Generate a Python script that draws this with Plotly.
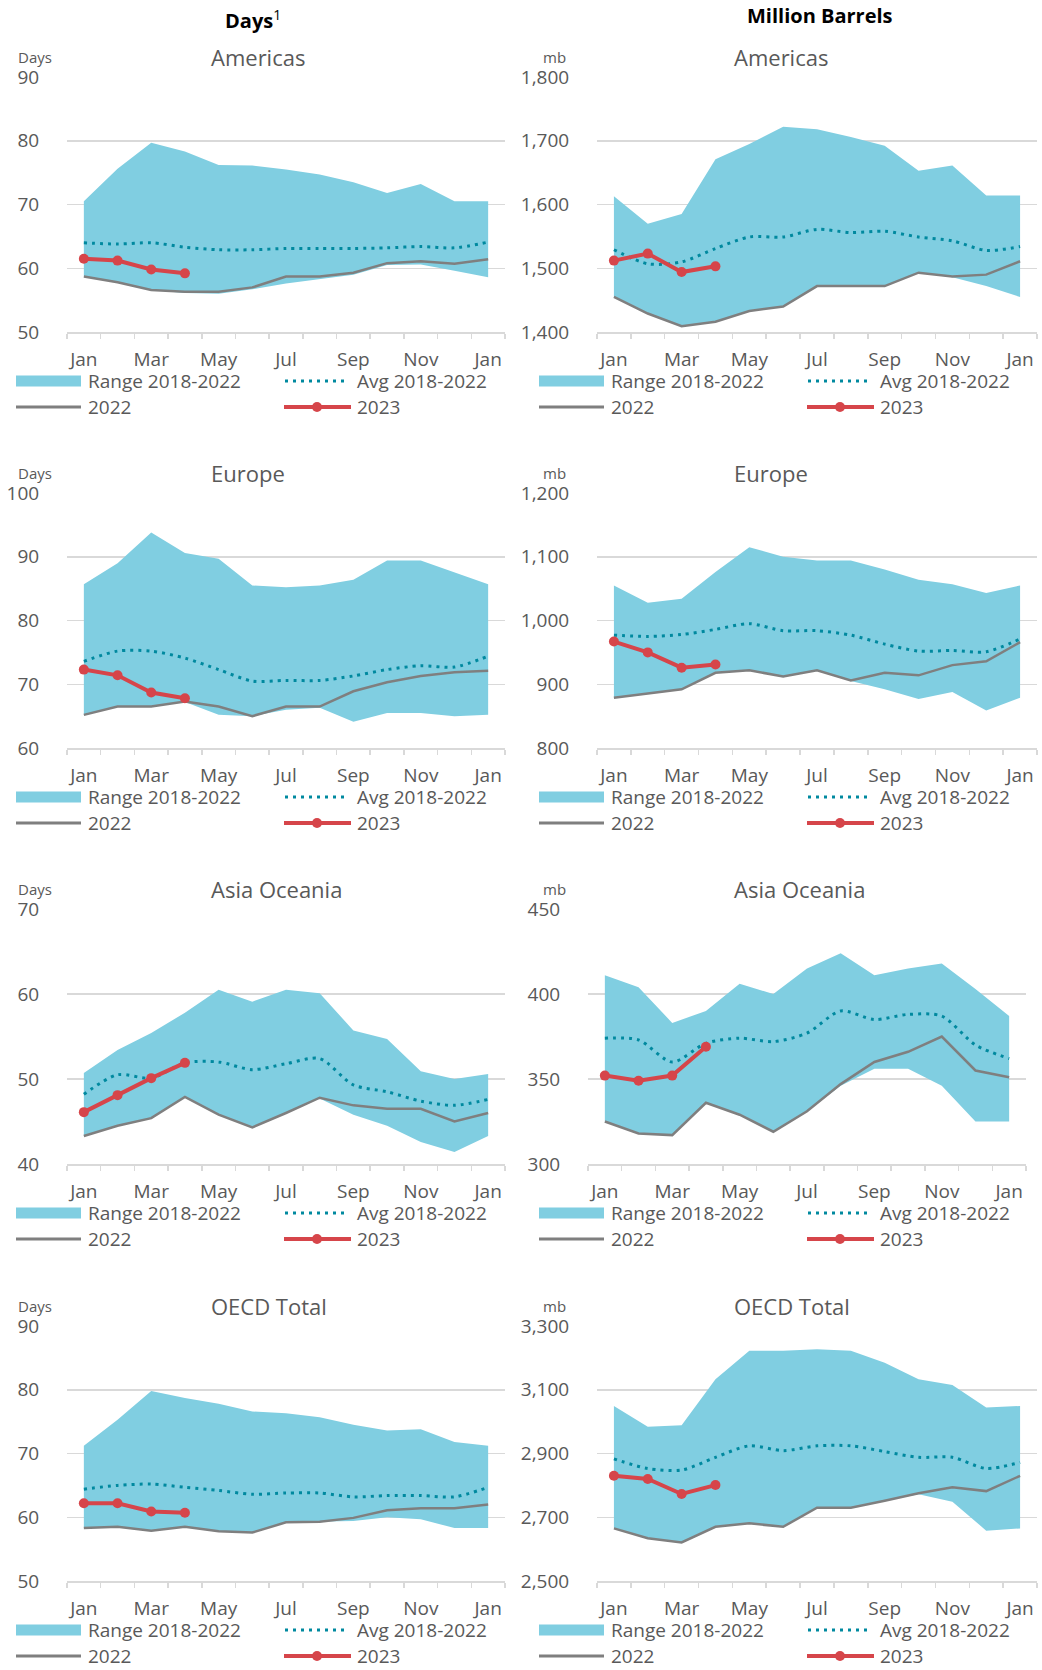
import plotly.graph_objects as go

W, H = 1042, 1670

months = ["Jan", "Feb", "Mar", "Apr", "May", "Jun", "Jul", "Aug", "Sep", "Oct", "Nov", "Dec", "Jan"]
legend_labels = ["Range 2018-2022", "Avg 2018-2022", "2022", "2023"]
titles = ["Americas", "Europe", "Asia Oceania", "OECD Total"]

# ---- Americas (days of forward demand) ----
am_days_max = [70.5, 75.6, 79.7, 78.3, 76.2, 76.1, 75.5, 74.7, 73.5, 71.8, 73.2, 70.5, 70.5]
am_days_min = [58.7, 57.8, 56.6, 56.1, 56.0, 56.7, 57.6, 58.3, 59.0, 60.5, 60.6, 59.6, 58.6]
am_days_avg = [64.0, 63.8, 64.0, 63.3, 62.9, 62.9, 63.1, 63.1, 63.1, 63.2, 63.4, 63.2, 64.1]
am_days_2022 = [58.7, 57.8, 56.6, 56.3, 56.3, 57.0, 58.7, 58.7, 59.3, 60.8, 61.1, 60.7, 61.4]
am_days_2023 = [61.5, 61.2, 59.8, 59.2]

# ---- Americas (mb) ----
am_mb_max = [1613, 1570, 1585, 1671, 1695, 1722, 1718, 1706, 1692, 1653, 1661, 1614, 1614]
am_mb_min = [1455, 1429, 1409, 1416, 1433, 1440, 1472, 1472, 1472, 1493, 1486, 1472, 1455]
am_mb_avg = [1529, 1507, 1510, 1531, 1549, 1549, 1561, 1556, 1558, 1549, 1543, 1528, 1534]
am_mb_2022 = [1455, 1429, 1409, 1416, 1433, 1440, 1472, 1472, 1472, 1493, 1487, 1490, 1511]
am_mb_2023 = [1512, 1523, 1494, 1503]

# ---- Europe (days) ----
eu_days_max = [85.7, 89.0, 93.8, 90.6, 89.7, 85.5, 85.2, 85.5, 86.4, 89.4, 89.4, 87.6, 85.7]
eu_days_min = [65.2, 66.5, 66.5, 67.2, 65.2, 65.0, 66.0, 66.3, 64.1, 65.5, 65.5, 65.0, 65.2]
eu_days_avg = [73.6, 75.2, 75.2, 74.1, 72.3, 70.5, 70.6, 70.6, 71.3, 72.3, 72.9, 72.7, 74.4]
eu_days_2022 = [65.2, 66.5, 66.5, 67.3, 66.5, 65.0, 66.5, 66.5, 68.9, 70.3, 71.3, 71.9, 72.1]
eu_days_2023 = [72.3, 71.4, 68.7, 67.8]

# ---- Europe (mb) ----
eu_mb_max = [1055, 1028, 1034, 1076, 1115, 1100, 1094, 1094, 1080, 1064, 1057, 1043, 1055]
eu_mb_min = [879, 886, 892, 918, 922, 912, 922, 905, 892, 877, 888, 859, 879]
eu_mb_avg = [977, 975, 978, 986, 995, 984, 984, 977, 963, 952, 953, 951, 971]
eu_mb_2022 = [879, 886, 892, 918, 922, 912, 922, 906, 918, 914, 930, 936, 966]
eu_mb_2023 = [967, 950, 926, 931]

# ---- Asia Oceania (days) ----
ao_days_max = [50.7, 53.4, 55.4, 57.8, 60.5, 59.1, 60.5, 60.1, 55.7, 54.7, 50.9, 50.0, 50.6]
ao_days_min = [43.3, 44.5, 45.4, 47.9, 45.8, 44.3, 46.0, 47.7, 45.8, 44.5, 42.6, 41.4, 43.3]
ao_days_avg = [48.2, 50.5, 50.1, 51.9, 52.0, 51.1, 51.8, 52.4, 49.3, 48.5, 47.4, 46.9, 47.6]
ao_days_2022 = [43.3, 44.5, 45.4, 47.9, 45.8, 44.3, 46.0, 47.8, 46.9, 46.5, 46.5, 45.0, 46.0]
ao_days_2023 = [46.1, 48.1, 50.1, 51.9]

# ---- Asia Oceania (mb) ----
ao_mb_max = [411, 404, 383, 390, 406, 400, 415, 424, 411, 415, 418, 403, 387]
ao_mb_min = [325, 318, 317, 336, 329, 319, 331, 346, 356, 356, 346, 325, 325]
ao_mb_avg = [374, 373, 360, 371, 374, 372, 377, 390, 385, 388, 387, 370, 362]
ao_mb_2022 = [325, 318, 317, 336, 329, 319, 331, 347, 360, 366, 375, 355, 351]
ao_mb_2023 = [352, 349, 352, 369]

# ---- OECD Total (days) ----
oe_days_max = [71.2, 75.3, 79.8, 78.7, 77.8, 76.6, 76.3, 75.7, 74.5, 73.6, 73.8, 71.8, 71.2]
oe_days_min = [58.3, 58.5, 57.9, 58.5, 57.8, 57.6, 59.2, 59.3, 59.4, 60.0, 59.7, 58.3, 58.3]
oe_days_avg = [64.4, 65.0, 65.2, 64.7, 64.2, 63.6, 63.8, 63.8, 63.2, 63.4, 63.4, 63.2, 64.7]
oe_days_2022 = [58.3, 58.5, 57.9, 58.5, 57.8, 57.6, 59.2, 59.3, 59.9, 61.1, 61.4, 61.4, 62.0]
oe_days_2023 = [62.2, 62.2, 60.9, 60.7]

# ---- OECD Total (mb) ----
oe_mb_max = [3049, 2984, 2989, 3133, 3222, 3222, 3227, 3222, 3185, 3133, 3115, 3044, 3049]
oe_mb_min = [2665, 2634, 2621, 2670, 2681, 2670, 2730, 2730, 2752, 2772, 2749, 2658, 2665]
oe_mb_avg = [2883, 2853, 2848, 2888, 2924, 2909, 2924, 2924, 2906, 2888, 2888, 2853, 2872]
oe_mb_2022 = [2665, 2634, 2621, 2670, 2681, 2670, 2730, 2730, 2752, 2775, 2794, 2782, 2830]
oe_mb_2023 = [2830, 2820, 2773, 2801]

# ---- axis ranges (min, max, step) ----
days_axes = [(50, 90, 10), (60, 100, 10), (40, 70, 10), (50, 90, 10)]
mb_axes = [(1400, 1800, 100), (800, 1200, 100), (300, 450, 50), (2500, 3300, 200)]

days_series = [
    (am_days_max, am_days_min, am_days_avg, am_days_2022, am_days_2023),
    (eu_days_max, eu_days_min, eu_days_avg, eu_days_2022, eu_days_2023),
    (ao_days_max, ao_days_min, ao_days_avg, ao_days_2022, ao_days_2023),
    (oe_days_max, oe_days_min, oe_days_avg, oe_days_2022, oe_days_2023),
]
mb_series = [
    (am_mb_max, am_mb_min, am_mb_avg, am_mb_2022, am_mb_2023),
    (eu_mb_max, eu_mb_min, eu_mb_avg, eu_mb_2022, eu_mb_2023),
    (ao_mb_max, ao_mb_min, ao_mb_avg, ao_mb_2022, ao_mb_2023),
    (oe_mb_max, oe_mb_min, oe_mb_avg, oe_mb_2022, oe_mb_2023),
]

# ---- styling ----
FONT = "Open Sans"
FILL = "#80CEE1"
TEAL = "#00899F"
GRAY = "#7F7F7F"
RED = "#D6454A"
GRID = "#D9D9D9"
TXT = "#595959"
AVG_DASH = "3px,5px"

row_tops = [77, 493, 909, 1326]
PLOT_H = 255
col_x = [(67, 505), (597, 1037)]
col_dx = [0, 523]


def fx(p):
    return p / W


def fy(p):
    return 1 - p / H


fig = go.Figure()
layout = dict(
    width=W, height=H,
    autosize=False,
    margin=dict(l=0, r=0, t=0, b=0, pad=0, autoexpand=False),
    paper_bgcolor="white", plot_bgcolor="white",
    showlegend=False,
    font=dict(family=FONT, color=TXT, size=19),
)
shapes = []
annotations = []

xs = list(range(len(months)))
panel = 0
for r in range(4):
    for c in range(2):
        panel += 1
        sfx = "" if panel == 1 else str(panel)
        xname, yname = "x" + sfx, "y" + sfx
        if c == 0:
            mx, mn, avg, y22, y23 = days_series[r]
            lo, hi, step = days_axes[r]
            unit = "Days"
        else:
            mx, mn, avg, y22, y23 = mb_series[r]
            lo, hi, step = mb_axes[r]
            unit = "mb"
        x0, x1 = col_x[c]
        if c == 1 and r == 2:
            x0, x1 = 588, 1026
        top = row_tops[r]

        common = dict(xaxis=xname, yaxis=yname, hoverinfo="skip", showlegend=False)
        fig.add_trace(go.Scatter(x=xs, y=mn, mode="lines", line=dict(width=0, color=FILL), **common))
        fig.add_trace(go.Scatter(x=xs, y=mx, mode="lines", fill="tonexty", fillcolor=FILL,
                                 line=dict(width=0, color=FILL), name=legend_labels[0], **common))
        fig.add_trace(go.Scatter(x=xs, y=avg, mode="lines", name=legend_labels[1],
                                 line=dict(color=TEAL, width=3, dash=AVG_DASH, shape="spline", smoothing=0.8),
                                 **common))
        fig.add_trace(go.Scatter(x=xs, y=y22, mode="lines", name=legend_labels[2],
                                 line=dict(color=GRAY, width=2.5), **common))
        fig.add_trace(go.Scatter(x=xs[:len(y23)], y=y23, mode="lines+markers", name=legend_labels[3],
                                 line=dict(color=RED, width=4), marker=dict(color=RED, size=10), **common))

        layout["xaxis" + sfx] = dict(
            domain=[fx(x0), fx(x1)], anchor=yname, range=[-0.5, len(months) - 0.5],
            automargin=False,
            showgrid=False, zeroline=False, showline=True, linecolor=GRID, linewidth=1.5,
            tickmode="array", tickvals=xs[::2], ticktext=months[::2],
            ticks="outside", ticklen=10, tickcolor="rgba(0,0,0,0)",
            minor=dict(tickmode="array", tickvals=[i - 0.5 for i in range(len(months) + 1)],
                       ticks="outside", ticklen=5, tickwidth=1.5, tickcolor=GRID, showgrid=False),
            tickfont=dict(family=FONT, size=19, color=TXT), fixedrange=True,
        )
        layout["yaxis" + sfx] = dict(
            domain=[fy(top + PLOT_H), fy(top)], anchor=xname, range=[lo, hi],
            automargin=False,
            tick0=lo, dtick=step, tickformat=",",
            showgrid=True, gridcolor=GRID, gridwidth=1.5, zeroline=False, showline=False,
            ticks="outside", ticklen=23, tickcolor="rgba(0,0,0,0)",
            tickfont=dict(family=FONT, size=19, color=TXT), fixedrange=True,
        )

        # panel title and unit
        annotations.append(dict(text=titles[r], xref="paper", yref="paper",
                                x=fx(209 if c == 0 else 732), y=fy(top - 20),
                                xanchor="left", yanchor="middle", showarrow=False,
                                font=dict(family=FONT, size=22, color=TXT)))
        annotations.append(dict(text=unit, xref="paper", yref="paper",
                                x=fx(16 if c == 0 else 541), y=fy(top - 20),
                                xanchor="left", yanchor="middle", showarrow=False,
                                font=dict(family=FONT, size=15, color=TXT)))

        # legend (2 x 2) below each panel
        dx = col_dx[c]
        ly1 = top + 304
        ly2 = top + 330
        shapes.append(dict(type="rect", xref="paper", yref="paper",
                           x0=fx(16 + dx), x1=fx(81 + dx), y0=fy(ly1 + 5.5), y1=fy(ly1 - 5.5),
                           fillcolor=FILL, line=dict(width=0)))
        shapes.append(dict(type="line", xref="paper", yref="paper",
                           x0=fx(285 + dx), x1=fx(345 + dx), y0=fy(ly1), y1=fy(ly1),
                           line=dict(color=TEAL, width=3, dash=AVG_DASH)))
        shapes.append(dict(type="line", xref="paper", yref="paper",
                           x0=fx(16 + dx), x1=fx(81 + dx), y0=fy(ly2), y1=fy(ly2),
                           line=dict(color=GRAY, width=3)))
        shapes.append(dict(type="line", xref="paper", yref="paper",
                           x0=fx(284 + dx), x1=fx(351 + dx), y0=fy(ly2), y1=fy(ly2),
                           line=dict(color=RED, width=4)))
        shapes.append(dict(type="circle", xref="paper", yref="paper",
                           x0=fx(312 + dx), x1=fx(322 + dx), y0=fy(ly2 + 5), y1=fy(ly2 - 5),
                           fillcolor=RED, line=dict(width=0)))
        for (lx, ly, txt) in [(86, ly1, legend_labels[0]), (355, ly1, legend_labels[1]),
                              (86, ly2, legend_labels[2]), (355, ly2, legend_labels[3])]:
            annotations.append(dict(text=txt, xref="paper", yref="paper",
                                    x=fx(lx + dx), y=fy(ly), xanchor="left", yanchor="middle",
                                    showarrow=False, font=dict(family=FONT, size=19, color=TXT)))

# column headers
annotations.append(dict(text="<b>Days</b><sup>1</sup>", xref="paper", yref="paper",
                        x=fx(253), y=fy(20), xanchor="center", yanchor="middle", showarrow=False,
                        font=dict(family=FONT, size=20, color="#000000")))
annotations.append(dict(text="<b>Million Barrels</b>", xref="paper", yref="paper",
                        x=fx(820), y=fy(15), xanchor="center", yanchor="middle", showarrow=False,
                        font=dict(family=FONT, size=20, color="#000000")))

layout["shapes"] = shapes
layout["annotations"] = annotations
fig.update_layout(**layout)
fig.write_html("out.html",
               config={"displayModeBar": False, "staticPlot": True},
               post_script="document.body.style.margin='0px';document.body.style.overflow='hidden';")
